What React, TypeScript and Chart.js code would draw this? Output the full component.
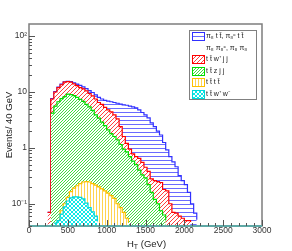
import { useEffect, useRef } from 'react';
import { Chart, registerables } from 'chart.js';

Chart.register(...registerables);

// ---- data (Events / 40 GeV, bin i covers [40 i, 40 i + 40] GeV; missing bins are empty) ----
const BIN_WIDTH = 40;
const N_BINS = 75; // 0 .. 3000 GeV

const X_TICKS = [0, 500, 1000, 1500, 2000, 2500, 3000];
const X_TICK_LABELS = ['0', '500', '1000', '1500', '2000', '2500', '3000'];
const Y_TICKS = [0.1, 1, 10, 100];
const Y_TICK_LABELS = ['10⁻¹', '1', '10', '10²'];

// pi8 t tbar, pi8c t tbar, pi8 pi8c, pi8 pi8 (signal)
const signal = [
  0, 0, 0, 0, 0, 0, 0.07, 7.6, 10.2, 12.2,
  13.8, 15.2, 15.6, 15.4, 14.6, 13.8, 13.2, 12.4, 11.5, 10.6,
  9.8, 8.9, 8.0, 7.5, 7.1, 6.9, 6.7, 6.5, 6.3, 6.1,
  5.9, 5.8, 5.6, 5.4, 5.2, 4.8, 4.3, 3.9, 3.45, 2.8,
  2.4, 2.0, 1.7, 1.25, 0.92, 0.7, 0.56, 0.46, 0.32, 0.26,
  0.22, 0.16, 0.1, 0.068, 0.052,
];
const ttwjj = [
  0, 0, 0, 0, 0, 0, 0.07, 7.5, 10, 12,
  13.5, 15, 15.3, 15, 14, 13, 12, 11.4, 10.5, 9.4,
  8.5, 7.5, 6.5, 6.0, 5.3, 4.8, 4.4, 3.9, 3.3, 2.4,
  1.6, 1.2, 0.95, 0.78, 0.7, 0.65, 0.55, 0.45, 0.38, 0.28,
  0.26, 0.25, 0.24, 0.18, 0.17, 0.1, 0.07, 0.068, 0.06, 0.055,
  0.05, 0.05, 0.047,
];
const ttzjj = [
  0, 0, 0, 0, 0, 0, 0, 4.2, 5.6, 6.7,
  7.6, 8.3, 9.2, 9.0, 8.6, 8.0, 7.4, 6.8, 6.0, 5.4,
  4.7, 3.9, 3.4, 2.9, 2.5, 2.1, 1.8, 1.6, 1.4, 1.15,
  0.95, 0.85, 0.7, 0.58, 0.5, 0.4, 0.33, 0.29, 0.22, 0.16,
  0.12, 0.1, 0.075, 0.063, 0.05,
];
const tttt = [
  0, 0, 0, 0, 0, 0, 0, 0, 0, 0.05,
  0.075, 0.1, 0.13, 0.165, 0.19, 0.21, 0.23, 0.245, 0.25, 0.245,
  0.23, 0.215, 0.2, 0.185, 0.17, 0.155, 0.14, 0.125, 0.1, 0.085,
  0.07, 0.055, 0.046,
];
const ttww = [
  0, 0, 0, 0, 0, 0, 0, 0, 0.045, 0.05,
  0.065, 0.088, 0.112, 0.128, 0.133, 0.133, 0.13, 0.122, 0.103, 0.085,
  0.072, 0.06, 0.048,
];

const LEGEND_LABELS = [
  'π₈ t t̄, π₈ᶜ t t̄',
  'π₈ π₈ᶜ, π₈ π₈',
  't t̄ w⁺ j j',
  't t̄ z j j',
  't t̄ t t̄',
  't t̄ w⁺ w⁻',
];

const FONT = "'Liberation Sans', Arial, Helvetica, sans-serif";

type PatKind = 'horiz' | 'diag' | 'vert' | 'cross';

function makePattern(kind: PatKind, color: string, period: number): CanvasPattern {
  const c = document.createElement('canvas');
  c.width = period;
  c.height = period;
  const g = c.getContext('2d')!;
  g.fillStyle = '#ffffff';
  g.fillRect(0, 0, period, period);
  g.fillStyle = color;
  for (let i = 0; i < period; i++) {
    if (kind === 'horiz') g.fillRect(i, 0, 1, 1);
    else if (kind === 'vert') g.fillRect(0, i, 1, 1);
    else if (kind === 'diag') g.fillRect(i, period - 1 - i, 1, 1);
    else {
      g.fillRect(i, i, 1, 1);
      g.fillRect(i, period - 1 - i, 1, 1);
    }
  }
  return g.createPattern(c, 'repeat')!;
}

function toPoints(vals: number[]) {
  const pts: { x: number; y: number }[] = [];
  for (let i = 0; i < N_BINS; i++) pts.push({ x: i * BIN_WIDTH, y: vals[i] ?? 0 });
  pts.push({ x: N_BINS * BIN_WIDTH, y: 0 });
  return pts;
}

export default function App() {
  const ref = useRef<HTMLCanvasElement>(null);

  useEffect(() => {
    document.body.style.margin = '0';
    const canvas = ref.current!;

    const styles = [
      { data: signal, pat: makePattern('horiz', '#6b6bff', 4), line: '#3030ff' },
      { data: ttwjj, pat: makePattern('diag', '#ff4040', 4), line: '#ff0000' },
      { data: ttzjj, pat: makePattern('diag', '#40e040', 3), line: '#00e000' },
      { data: tttt, pat: makePattern('vert', '#ffd450', 3), line: '#ffc000' },
      { data: ttww, pat: makePattern('cross', '#10e8e8', 4), line: '#00d8d8' },
    ];

    // Chart.js draws dataset 0 on top, so reverse the stacking order
    const datasets = styles
      .map((s) => ({
        data: toPoints(s.data),
        backgroundColor: s.pat,
        borderColor: s.line,
        borderWidth: 1.2,
        pointRadius: 0,
        stepped: 'before' as const,
        fill: 'start' as const,
        tension: 0,
      }))
      .reverse();

    const decor = {
      id: 'decor',
      afterDatasetsDraw(chart: any) {
        const { ctx, chartArea: a, scales } = chart;
        const x = scales.x;
        const y = scales.y;
        ctx.save();
        ctx.strokeStyle = '#7d7d7d';
        ctx.lineWidth = 1.5;
        ctx.strokeRect(a.left, a.top, a.right - a.left, a.bottom - a.top);
        ctx.strokeStyle = '#5fa9a6';
        ctx.lineWidth = 2;
        ctx.beginPath();
        ctx.moveTo(a.left, a.bottom);
        ctx.lineTo(a.right, a.bottom);
        ctx.stroke();
        ctx.strokeStyle = '#555';
        ctx.lineWidth = 1;
        ctx.beginPath();
        for (let v = 0; v <= 3000; v += 100) {
          const px = Math.round(x.getPixelForValue(v)) + 0.5;
          const len = v % 500 === 0 ? 6 : 3;
          ctx.moveTo(px, a.bottom);
          ctx.lineTo(px, a.bottom - len);
        }
        for (let d = -2; d <= 2; d++) {
          for (let m = 1; m <= 9; m++) {
            const v = m * Math.pow(10, d);
            if (v < y.min || v > y.max) continue;
            const py = Math.round(y.getPixelForValue(v)) + 0.5;
            const len = m === 1 ? 6 : 3;
            ctx.moveTo(a.left, py);
            ctx.lineTo(a.left + len, py);
          }
        }
        ctx.stroke();
        ctx.restore();
      },
      afterDraw(chart: any) {
        const { ctx, chartArea: a } = chart;
        ctx.save();
        ctx.fillStyle = '#222';
        ctx.font = `9.5px ${FONT}`;
        ctx.textAlign = 'center';
        ctx.textBaseline = 'middle';
        ctx.save();
        ctx.translate(9, (a.top + a.bottom) / 2);
        ctx.rotate(-Math.PI / 2);
        ctx.fillText('Events/ 40 GeV', 0, 0);
        ctx.restore();
        ctx.textAlign = 'left';
        ctx.textBaseline = 'alphabetic';
        const big = `9.5px ${FONT}`;
        const small = `7px ${FONT}`;
        ctx.font = big;
        const wH = ctx.measureText('H').width;
        const wRest = ctx.measureText(' (GeV)').width;
        ctx.font = small;
        const wT = ctx.measureText('T').width;
        const total = wH + wT + wRest;
        let cx = (a.left + a.right) / 2 - total / 2 + 1;
        const by = 246.5;
        ctx.font = big;
        ctx.fillText('H', cx, by);
        cx += wH;
        ctx.font = small;
        ctx.fillText('T', cx, by + 2);
        cx += wT;
        ctx.font = big;
        ctx.fillText(' (GeV)', cx, by);

        const lx = 189.5;
        const ly = 30.5;
        const lw = 67;
        const lh = 69;
        ctx.fillStyle = '#ffffff';
        ctx.fillRect(lx, ly, lw, lh);
        ctx.strokeStyle = '#808080';
        ctx.lineWidth = 1;
        ctx.strokeRect(lx, ly, lw, lh);
        const rowH = lh / 6;
        const symFor = [0, -1, 1, 2, 3, 4];
        ctx.font = `7px ${FONT}`;
        ctx.textBaseline = 'middle';
        for (let r = 0; r < 6; r++) {
          const cy = ly + rowH * (r + 0.5);
          const si = symFor[r];
          if (si >= 0) {
            const s = styles[si];
            ctx.fillStyle = s.pat;
            ctx.fillRect(192.5, Math.round(cy - 4) + 0.5, 12, 8);
            ctx.strokeStyle = s.line;
            ctx.lineWidth = 1;
            ctx.strokeRect(192.5, Math.round(cy - 4) + 0.5, 12, 8);
          }
          ctx.fillStyle = '#222';
          ctx.fillText(LEGEND_LABELS[r], 206, cy);
        }
        ctx.restore();
      },
    };

    const chart = new Chart(canvas, {
      type: 'line',
      data: { datasets },
      options: {
        animation: false,
        responsive: false,
        devicePixelRatio: 1,
        layout: { padding: { top: 24, right: 30, left: 0, bottom: 0 } },
        plugins: { legend: { display: false }, tooltip: { enabled: false } },
        scales: {
          x: {
            type: 'linear',
            min: 0,
            max: 3000,
            grid: { display: false, drawTicks: false },
            border: { display: false },
            afterBuildTicks: (s: any) => {
              s.ticks = X_TICKS.map((v) => ({ value: v }));
            },
            afterFit: (s: any) => {
              s.height = 25;
            },
            ticks: {
              autoSkip: false,
              maxRotation: 0,
              padding: 0,
              color: '#333',
              font: { size: 8.5, family: FONT },
              callback: (v: any) => X_TICK_LABELS[X_TICKS.indexOf(Number(v))] ?? '',
            },
          },
          y: {
            type: 'logarithmic',
            min: 0.04,
            max: 165,
            grid: { display: false, drawTicks: false },
            border: { display: false },
            afterBuildTicks: (s: any) => {
              s.ticks = Y_TICKS.map((v) => ({ value: v }));
            },
            afterFit: (s: any) => {
              s.width = 29;
            },
            ticks: {
              autoSkip: false,
              padding: 2,
              color: '#333',
              font: { size: 8.5, family: FONT },
              callback: (v: any) => Y_TICK_LABELS[Y_TICKS.indexOf(Number(v))] ?? '',
            },
          },
        },
      },
      plugins: [decor],
    });

    return () => chart.destroy();
  }, []);

  return (
    <div style={{ width: 292, height: 251 }}>
      <canvas ref={ref} width={292} height={251} style={{ display: 'block', width: 292, height: 251 }} />
    </div>
  );
}
